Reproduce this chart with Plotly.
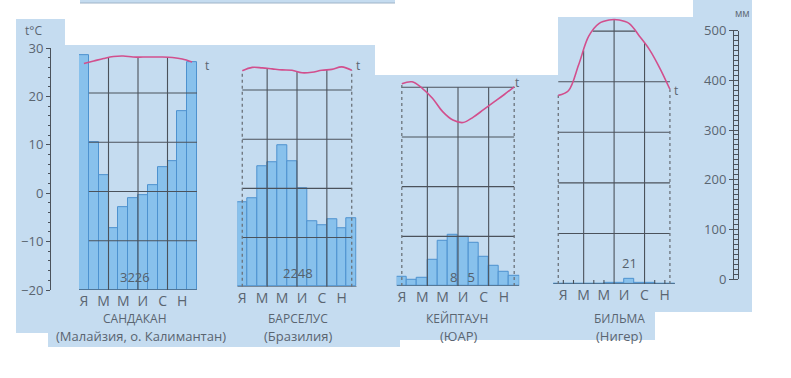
import plotly.graph_objects as go

W, H = 791, 378

# ---------------- data ----------------
MONTHS = ['Я', 'Ф', 'М', 'А', 'М', 'И', 'И', 'А', 'С', 'О', 'Н', 'Д']

SANDAKAN_T = [26.0, 26.5, 27.0, 27.4, 27.5, 27.3, 27.3, 27.3, 27.3, 27.2, 26.9, 26.3]
SANDAKAN_P = [477, 301, 234, 125, 168, 186, 193, 213, 250, 262, 364, 462]

BARCELOS_T = [23.9, 24.6, 24.5, 24.3, 24.1, 24.0, 23.5, 23.6, 24.0, 24.2, 24.7, 24.0]
BARCELOS_P = [172, 180, 244, 253, 287, 256, 201, 134, 125, 138, 119, 139]

CAPETOWN_T = [20.7, 21.1, 19.8, 17.8, 15.1, 13.4, 12.9, 14.0, 15.5, 17.0, 18.5, 20.1]
CAPETOWN_P = [19, 12, 16, 53, 91, 104, 100, 86, 59, 41, 28, 20]

BILMA_T = [17.3, 18.2, 23.3, 29.0, 31.5, 32.2, 32.2, 31.5, 29.0, 26.3, 22.7, 18.5]
BILMA_P = [0, 0, 0, 0, 0, 2, 3, 11, 3, 2, 0, 0]

NAMES = ['САНДАКАН', 'БАРСЕЛУС', 'КЕЙПТАУН', 'БИЛЬМА']
COUNTRIES = ['(Малайзия, о. Калимантан)', '(Бразилия)', '(ЮАР)', '(Нигер)']
TOTALS = ['3226', '2248', '8   5', '21']

T_TICKS = [-20, -10, 0, 10, 20, 30]
MM_TICKS = [0, 100, 200, 300, 400, 500]

# ---------------- style ----------------
BG = '#c5dcf0'
BAR = '#88c1ec'
BAR_EDGE = '#4d92cf'
GRID = '#4b525b'
TEMP = '#d24f8d'
TEXT = '#5a6570'
FONT = 'Open Sans'


def px(x):
    return x / W


def py(y):
    return 1 - y / H


# panel geometry (pixels): bar-area left/right, baseline (-20 °C / 0 mm), 20 °C line
PANELS = [
    dict(x0=79, x1=197, base=290, l20=93, name_x=135, sub_x=141, shift=0,
         tot_x=135, tot_y=277, t_xy=(207, 65), grid_x=(0.5, 11.5), dotted=False),
    dict(x0=237.3, x1=356.7, base=286.7, l20=90, name_x=298, sub_x=298, shift=0,
         tot_x=298, tot_y=273, t_xy=(358, 65), grid_x=(0, 11), dotted=True),
    dict(x0=396.7, x1=519.3, base=286, l20=87.3, name_x=457, sub_x=458, shift=0,
         tot_x=463, tot_y=277, t_xy=(517, 83), grid_x=(0, 11), dotted=True),
    dict(x0=553.2, x1=675, base=284, l20=81.7, name_x=619, sub_x=619, shift=5,
         tot_x=629, tot_y=263, t_xy=(676, 91), grid_x=(0, 11), dotted=True),
]
TEMPS = [SANDAKAN_T, BARCELOS_T, CAPETOWN_T, BILMA_T]
PRECS = [SANDAKAN_P, BARCELOS_P, CAPETOWN_P, BILMA_P]

fig = go.Figure()
layout = dict(
    width=W, height=H, margin=dict(l=0, r=0, t=0, b=0, pad=0, autoexpand=False),
    paper_bgcolor='white', plot_bgcolor='rgba(0,0,0,0)',
    showlegend=False, bargap=0, font=dict(family=FONT, color=TEXT),
)

# background photo-like region (pixel polygon converted to paper coords)
BG_POLY = [(16, 19), (65, 19), (65, 45), (375, 45), (375, 75), (558, 75), (558, 17),
           (693, 17), (693, 0), (752, 0), (752, 312), (655, 312), (655, 340), (400, 340),
           (400, 347), (48, 347), (48, 333), (16, 333)]
paper_path = 'M ' + ' L '.join(f'{px(a):.5f},{py(b):.5f}' for a, b in BG_POLY) + ' Z'
shapes = [
    dict(type='path', xref='paper', yref='paper', path=paper_path,
         fillcolor=BG, line=dict(width=0), layer='below'),
    dict(type='rect', xref='paper', yref='paper', x0=px(80), x1=px(395),
         y0=py(3), y1=py(0), fillcolor=BG, line=dict(width=0), layer='below'),
    dict(type='line', xref='paper', yref='paper', x0=px(80), x1=px(395),
         y0=py(3), y1=py(3), line=dict(color='#9fb4c8', width=1), layer='below'),
]

annotations = []


def note(text, x, y, size, color=TEXT):
    annotations.append(dict(text=text, x=px(x), y=py(y), xref='paper', yref='paper',
                            xanchor='center', yanchor='middle', showarrow=False,
                            font=dict(size=size, color=color, family=FONT)))


def interp(T, x):
    i = int(x)
    f = x - i
    return T[i] * (1 - f) + T[min(i + 1, 11)] * f


def line(xs, ys, xa, ya, dash='solid', width=1.1, color=GRID):
    fig.add_trace(go.Scatter(x=xs, y=ys, xaxis=xa, yaxis=ya, mode='lines',
                             line=dict(color=color, width=width, dash=dash),
                             hoverinfo='skip'))


for k, (pan, T, P) in enumerate(zip(PANELS, TEMPS, PRECS)):
    xid = f'x{k + 1}'
    pid = f'y{2 * k + 1}'   # precipitation axis (base)
    tid = f'y{2 * k + 2}'   # temperature axis (overlay)
    ppd = (pan['base'] - pan['l20']) / 40.0
    tmax = 35
    top = pan['base'] - (tmax + 20) * ppd
    dom = [py(pan['base']), py(top)]
    layout['xaxis' if k == 0 else f'xaxis{k + 1}'] = dict(
        domain=[px(pan['x0']), px(pan['x1'])], range=[-0.5, 11.5], anchor=pid,
        tickvals=list(range(0, 12, 2)), ticktext=MONTHS[0::2], ticks='', showline=False,
        showgrid=False, zeroline=False, tickfont=dict(size=14, color=TEXT, family=FONT),
        ticklabelstandoff=1, ticklabelshift=pan['shift'], fixedrange=True,
        automargin=False)
    layout['yaxis' if k == 0 else f'yaxis{2 * k + 1}'] = dict(
        domain=dom, range=[0, (tmax + 20) * 10], anchor=xid, visible=False,
        fixedrange=True, automargin=False)
    layout[f'yaxis{2 * k + 2}'] = dict(
        domain=dom, range=[-20, tmax], anchor=xid, overlaying=pid, visible=False,
        fixedrange=True, automargin=False)

    fig.add_trace(go.Bar(x=list(range(12)), y=P, xaxis=xid, yaxis=pid,
                         marker=dict(color=BAR, line=dict(color=BAR_EDGE, width=1)),
                         hoverinfo='skip'))

    # horizontal grid lines
    gx0, gx1 = pan['grid_x']
    for lvl in [-10, 0, 10, 20]:
        line([gx0, gx1], [lvl, lvl], xid, tid)
    # line at 30 only where temperature exceeds it
    above = [i for i in range(12) if T[i] > 30]
    if above:
        a, b = above[0], above[-1]
        xa = a - 1 + (30 - T[a - 1]) / (T[a] - T[a - 1])
        xb = b + (T[b] - 30) / (T[b] - T[b + 1])
        line([xa, xb], [30, 30], xid, tid)
    # baseline
    line([-0.5, 11.5], [-20, -20], xid, tid)
    # vertical lines
    for xv in [2.5, 5.5, 8.5]:
        line([xv, xv], [-20, max(20, interp(T, xv))], xid, tid)
    if pan['dotted']:
        for xv in [0, 11]:
            line([xv, xv], [-20, T[xv]], xid, tid, dash='dot', width=1.3, color='#6b727a')
    if k == 3:
        for xv in [0.5, 1.5, 3.5, 4.5, 9.5, 10.5]:
            line([xv, xv], [-20, -19.2], xid, tid)
    # temperature curve
    fig.add_trace(go.Scatter(x=list(range(12)), y=T, xaxis=xid, yaxis=tid, mode='lines',
                             line=dict(color=TEMP, width=1.6, shape='spline'),
                             hoverinfo='skip'))

    note(NAMES[k], pan['name_x'], 318, 12)
    note(COUNTRIES[k], pan['sub_x'], 336, 13)
    note(TOTALS[k], pan['tot_x'], pan['tot_y'], 13, '#55606b')
    note('t', pan['t_xy'][0], pan['t_xy'][1], 12)

# visible temperature scale (left)
layout['yaxis9'] = dict(domain=[py(290), py(48)], range=[-20, 30], anchor='free',
                        position=px(50), side='left', showline=True, linecolor=GRID,
                        linewidth=1, tickvals=T_TICKS, ticks='outside', ticklen=4,
                        tickcolor=GRID, showgrid=False, zeroline=False,
                        tickfont=dict(size=13, color=TEXT, family=FONT),
                        minor=dict(dtick=2, ticks='outside', ticklen=2, tickcolor=GRID),
                        fixedrange=True, automargin=False)
fig.add_trace(go.Scatter(x=[0], y=[0], xaxis='x1', yaxis='y9', mode='markers',
                         marker=dict(opacity=0), hoverinfo='skip'))

# visible precipitation scale (right) drawn as a ladder
layout['yaxis10'] = dict(domain=[py(279), py(30.7)], range=[0, 500], anchor='free',
                         position=px(733), side='left', showline=True, linecolor=GRID,
                         linewidth=1, tickvals=MM_TICKS, ticks='outside', ticklen=4,
                         tickcolor=GRID, showgrid=False, zeroline=False,
                         tickfont=dict(size=13, color=TEXT, family=FONT), fixedrange=True,
                         automargin=False)
layout['yaxis11'] = dict(domain=[py(279), py(30.7)], range=[0, 500], anchor='free',
                         position=px(738), side='left', showline=True, linecolor=GRID,
                         linewidth=1, dtick=10, ticks='outside', ticklen=5,
                         tickcolor=GRID, showticklabels=False, showgrid=False,
                         zeroline=False, fixedrange=True, automargin=False)
fig.add_trace(go.Scatter(x=[0], y=[0], xaxis='x1', yaxis='y10', mode='markers',
                         marker=dict(opacity=0), hoverinfo='skip'))
fig.add_trace(go.Scatter(x=[0], y=[0], xaxis='x1', yaxis='y11', mode='markers',
                         marker=dict(opacity=0), hoverinfo='skip'))

note('t°C', 33, 31, 12)
note('мм', 742, 13, 10)

layout['shapes'] = shapes
layout['annotations'] = annotations
fig.update_layout(**layout)
fig.write_html('out.html', config={'displayModeBar': False},
               post_script="document.body.style.margin='0';document.body.style.overflow='hidden';")
